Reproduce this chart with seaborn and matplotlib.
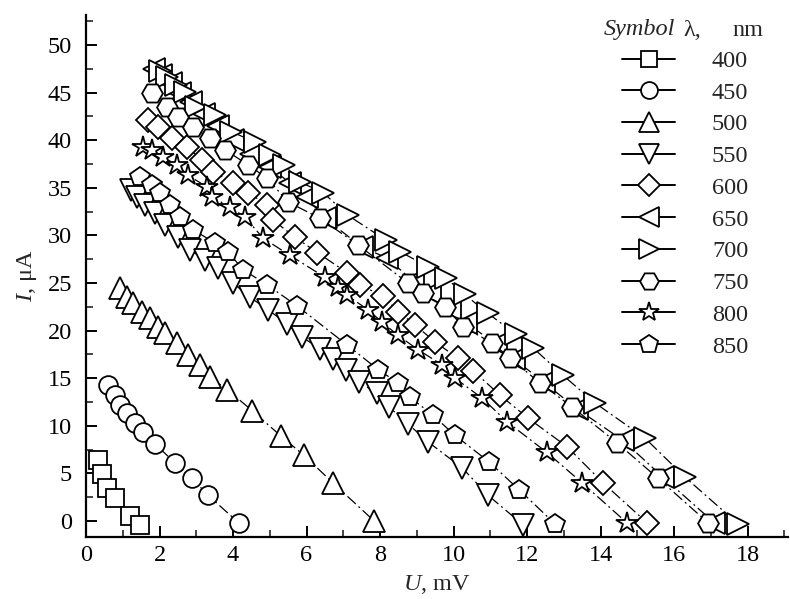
import matplotlib
matplotlib.use("Agg")
import matplotlib.pyplot as plt
from matplotlib.lines import Line2D
from matplotlib.ticker import MultipleLocator
import seaborn as sns
import pandas as pd

# ---- data (U in mV, I in uA) ----
wavelengths = ["400", "450", "500", "550", "600", "650", "700", "750", "800", "850"]
markers = ["s", "o", "^", "v", "D", "<", ">", "H", "*", "p"]

u400 = [0.33, 0.44, 0.57, 0.79, 1.20, 1.47]
i400 = [6.4, 4.9, 3.5, 2.4, 0.5, -0.4]

u450 = [0.60, 0.79, 0.93, 1.12, 1.33, 1.55, 1.88, 2.42, 2.88, 3.32, 4.16]
i450 = [14.3, 13.2, 12.2, 11.3, 10.3, 9.3, 8.1, 6.1, 4.5, 2.7, -0.2]

u500 = [0.93, 1.12, 1.28, 1.52, 1.74, 1.96, 2.15, 2.48, 2.78, 3.10, 3.37, 3.84, 4.52, 5.31, 5.93, 6.72, 7.84]
i500 = [24.5, 23.5, 22.9, 22.0, 21.3, 20.4, 19.7, 18.7, 17.4, 16.4, 15.1, 13.8, 11.6, 8.9, 6.9, 4.0, 0.0]

u550 = [1.22, 1.39, 1.61, 1.88, 2.15, 2.50, 2.83, 3.24, 3.59, 4.00, 4.46, 4.95, 5.47, 5.88, 6.37,
        6.72, 7.07, 7.43, 7.92, 8.24, 8.76, 9.31, 10.23, 10.94, 11.89]
i550 = [34.8, 34.0, 33.2, 32.4, 31.1, 29.8, 28.5, 27.4, 26.6, 25.0, 23.5, 22.2, 20.7, 19.3, 18.1,
        17.0, 15.9, 14.6, 13.4, 12.0, 10.2, 8.3, 5.6, 2.7, -0.4]

u600 = [1.69, 1.96, 2.34, 2.75, 3.16, 3.46, 4.00, 4.41, 4.93, 5.09, 5.69, 6.29, 7.10, 7.46, 8.08,
        8.49, 8.95, 9.50, 10.12, 10.53, 11.27, 12.03, 13.09, 14.07, 15.27]
i600 = [42.1, 41.4, 40.2, 39.3, 37.9, 36.7, 35.5, 34.5, 33.2, 31.6, 29.8, 28.2, 26.1, 24.8, 23.6,
        22.0, 20.6, 18.8, 17.1, 15.8, 13.2, 10.8, 7.8, 4.0, -0.2]

u650 = [1.85, 2.05, 2.30, 2.55, 2.85, 3.20, 3.60, 4.00, 4.50, 5.00, 5.55, 6.00, 6.50, 7.50, 8.20,
        8.90, 9.35, 9.90, 10.35, 11.15, 11.65, 12.45, 13.35, 14.60, 15.70, 17.10]
i650 = [47.5, 46.8, 46.0, 45.0, 44.0, 42.8, 41.5, 40.0, 38.6, 37.2, 35.5, 34.0, 31.8, 28.8, 27.6,
        25.2, 23.9, 22.3, 20.8, 18.6, 17.0, 14.6, 11.8, 8.5, 4.6, -0.2]

u700 = [2.00, 2.20, 2.45, 2.69, 2.99, 3.51, 3.95, 4.60, 5.01, 5.40, 5.82, 6.45, 7.13, 8.16, 8.54,
        9.31, 9.80, 10.30, 10.94, 11.70, 12.16, 12.98, 13.85, 15.21, 16.30, 17.74]
i700 = [47.3, 46.6, 45.8, 45.1, 43.5, 42.6, 40.9, 39.8, 38.4, 37.4, 35.6, 34.5, 32.1, 29.5, 28.3,
        26.7, 25.5, 23.8, 21.8, 19.6, 18.2, 15.3, 12.4, 8.7, 4.6, -0.3]

u750 = [1.80, 2.20, 2.50, 2.91, 3.37, 3.78, 4.41, 4.93, 5.50, 6.37, 7.40, 8.76, 9.17, 9.77, 10.26,
        11.05, 11.54, 12.35, 13.22, 14.45, 15.56, 16.93]
i750 = [45.0, 43.5, 42.4, 41.4, 40.2, 39.0, 37.4, 36.0, 33.5, 31.8, 29.0, 25.0, 23.9, 22.5, 20.4,
        18.7, 17.1, 14.5, 12.0, 8.2, 4.5, -0.2]

u800 = [1.55, 1.80, 2.10, 2.48, 2.78, 3.29, 3.43, 3.92, 4.33, 4.82, 5.55, 6.50, 6.86, 7.10, 7.67,
        8.05, 8.49, 9.03, 9.69, 10.04, 10.78, 11.46, 12.54, 13.50, 14.72]
i800 = [39.3, 39.0, 38.2, 37.4, 36.3, 35.1, 34.0, 33.0, 31.9, 29.7, 27.9, 25.6, 24.6, 23.7, 22.2,
        20.9, 19.5, 18.0, 16.4, 15.0, 12.9, 10.4, 7.2, 4.0, -0.2]

u850 = [1.47, 1.80, 2.01, 2.29, 2.56, 2.91, 3.51, 3.86, 4.27, 4.93, 5.74, 7.10, 7.95, 8.49, 8.82,
        9.44, 10.04, 10.97, 11.78, 12.76]
i850 = [36.1, 35.3, 34.5, 33.2, 31.9, 30.6, 29.2, 28.3, 26.4, 24.8, 22.6, 18.5, 15.9, 14.5, 13.0,
        11.1, 9.0, 6.2, 3.3, -0.3]

series_u = [u400, u450, u500, u550, u600, u650, u700, u750, u800, u850]
series_i = [i400, i450, i500, i550, i600, i650, i700, i750, i800, i850]

x_ticks = [0, 2, 4, 6, 8, 10, 12, 14, 16, 18]
y_ticks = [0, 5, 10, 15, 20, 25, 30, 35, 40, 45, 50]

# marker sizes (points) per symbol
msizes = {"s": 12.5, "o": 13.5, "^": 16, "v": 16, "D": 12.5, "<": 16, ">": 16,
          "H": 15, "*": 16, "p": 15}

sns.set_theme(style="ticks")
plt.rcParams["font.family"] = ["Liberation Serif", "DejaVu Serif"]
plt.rcParams["mathtext.fontset"] = "custom"
plt.rcParams["mathtext.rm"] = "Liberation Serif"
plt.rcParams["mathtext.it"] = "Liberation Serif:italic"

FS = 17.5

fig = plt.figure(figsize=(7.9, 5.99), dpi=100)
ax = fig.add_axes([86 / 790, 62 / 599, 702 / 790, 522 / 599])

dash = (0, (9, 3, 1.5, 3))
for lam, m, u, i in zip(wavelengths, markers, series_u, series_i):
    df = pd.DataFrame({"U": u, "I": i})
    sns.lineplot(data=df, x="U", y="I", ax=ax, sort=False, estimator=None,
                 color="black", lw=0.9, linestyle=dash,
                 marker=m, markersize=msizes[m], markerfacecolor="white",
                 markeredgecolor="black", markeredgewidth=1.3, legend=False)

ax.set_xlim(0, 19.1)
ax.set_ylim(-1.68, 53.15)
ax.set_xticks(x_ticks)
ax.set_yticks(y_ticks)
ax.xaxis.set_minor_locator(MultipleLocator(1))
ax.yaxis.set_minor_locator(MultipleLocator(2.5))
ax.tick_params(axis="both", which="major", direction="in", length=8, width=1.4,
               labelsize=FS, colors="black")
ax.tick_params(axis="x", which="major", pad=6)
ax.tick_params(axis="y", which="major", pad=10)
ax.tick_params(axis="both", which="minor", direction="in", length=5, width=1.2)
for s in ["top", "right"]:
    ax.spines[s].set_visible(False)
for s in ["left", "bottom"]:
    ax.spines[s].set_linewidth(1.6)
    ax.spines[s].set_color("black")

ax.set_xlabel(r"$\mathit{U}$, mV", fontsize=FS, labelpad=5)
ax.set_ylabel(r"$\mathit{I}$, μA", fontsize=FS, labelpad=6)

# legend
handles = [Line2D([0], [0], color="black", lw=1.4, marker=m, markersize=msizes[m] * 0.9,
                  markerfacecolor="white", markeredgecolor="black", markeredgewidth=1.3)
           for m in markers]
leg = ax.legend(handles, wavelengths, loc="upper left", frameon=False,
                bbox_to_anchor=(622 / 790, 1 - 50 / 599), bbox_transform=fig.transFigure,
                fontsize=FS, handlelength=2.2, handletextpad=1.5, labelspacing=0.40,
                borderpad=0, borderaxespad=0)

fig.text(604 / 790, 1 - 30 / 599, "Symbol", fontsize=FS, style="italic", va="center", ha="left")
fig.text(683 / 790, 1 - 30 / 599, "λ,", fontsize=FS, va="center", ha="left")
fig.text(732 / 790, 1 - 30 / 599, "nm", fontsize=FS, va="center", ha="left")

fig.savefig("out.png", dpi=100)
